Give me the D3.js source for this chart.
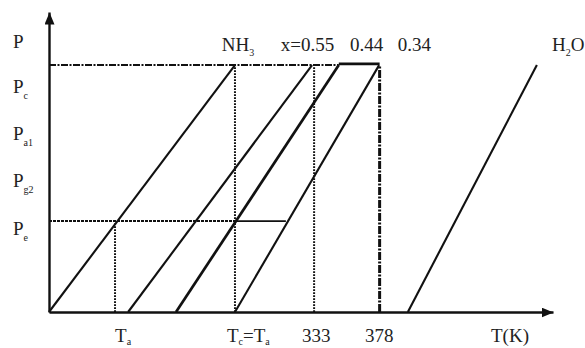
<!DOCTYPE html>
<html>
<head>
<meta charset="utf-8">
<script src="https://cdn.jsdelivr.net/npm/d3@7"></script>
<style>
  body { margin: 0; background: #fff; }
</style>
</head>
<body>
<div id="chart"></div>
<script>
// chart units: T and P both 0..100 along the axes
var pTop = 82.3;      // upper pressure level of the isosteres
var pEvap = 30.3;     // Pe level

// isosteres: start T at P=0, end T at P=pTop
var lineNames = ["NH3", "0.55", "0.44", "0.34", "H2O"];
var lineStart = [0, 15.7, 25.2, 36.9, 71.2];
var lineEnd = [36.9, 52.2, 57.5, 65.5, 96.8];

// vertical guides (T value, top P)
var guideT = [13.1, 36.9, 52.6, 65.6];
var guideTop = [pEvap, pTop, pTop, pTop];

// Pe horizontal: dotted part then solid part
var peDotted = [0, 36.9];
var peSolid = [36.9, 47.0];
// top line: dash-dot part then solid part
var topDashed = [0, 57.5];
var topSolid = [57.5, 65.6];

var yLabels = [["P", ""], ["P", "c"], ["P", "a1"], ["P", "g2"], ["P", "e"]];
var yLabelLevels = [90.3, 75.3, 59.7, 44, 28];

var topLabels = [["NH", "3", ""], ["x=0.55", "", ""], ["0.44", "", ""], ["0.34", "", ""], ["H", "2", "O"]];
var topLabelT = [34.3, 46.0, 59.7, 69.2, 99.8];

var bottomLabels = [["T", "a", "", ""], ["T", "c", "=T", "a"], ["333", "", "", ""], ["378", "", "", ""], ["T(K)", "", "", ""]];
var bottomLabelT = [13.1, 35.3, 50.2, 62.7, 87.7];

var width = 585, height = 348;
var font = "'Liberation Serif', 'Times New Roman', 'DejaVu Serif', serif";
var x = d3.scaleLinear().domain([0, 100]).range([49, 553]);
var y = d3.scaleLinear().domain([0, 100]).range([312, 12]);

var svg = d3.select("#chart").append("svg")
    .attr("width", width)
    .attr("height", height);

svg.append("defs").append("marker")
    .attr("id", "arrow")
    .attr("markerUnits", "userSpaceOnUse")
    .attr("viewBox", "0 0 12 10")
    .attr("refX", 12).attr("refY", 5)
    .attr("markerWidth", 12).attr("markerHeight", 10)
    .attr("orient", "auto")
    .append("path")
    .attr("d", "M0,0L12,5L0,10Z")
    .style("fill", "#111");

// axes (domain lines only, with arrowheads)
svg.append("g")
    .attr("transform", "translate(0," + y(0) + ")")
    .call(d3.axisBottom(x).tickValues([]).tickSizeOuter(0));
svg.append("g")
    .attr("transform", "translate(" + x(0) + ",0)")
    .call(d3.axisLeft(y).tickValues([]).tickSizeOuter(0));
svg.selectAll(".domain")
    .style("stroke", "#111")
    .style("stroke-width", 2.4)
    .attr("marker-end", "url(#arrow)");

// horizontal lines
function hline(seg, p, dash, w) {
    svg.append("line")
        .attr("x1", x(seg[0])).attr("x2", x(seg[1]))
        .attr("y1", y(p)).attr("y2", y(p))
        .style("stroke", "#111")
        .style("stroke-width", w)
        .style("stroke-dasharray", dash);
}
hline(topDashed, pTop, "7,1.5,2,1.5", 2);
hline(topSolid, pTop + 0.4, null, 2.6);
hline(peDotted, pEvap, "3,1", 2);
hline(peSolid, pEvap, null, 1.8);

// vertical guides
svg.selectAll("line.guide").data(guideT).enter().append("line")
    .attr("class", "guide")
    .attr("x1", function (d) { return x(d); })
    .attr("x2", function (d) { return x(d); })
    .attr("y1", y(0))
    .attr("y2", function (d, i) { return y(guideTop[i]); })
    .style("stroke", "#111")
    .style("stroke-width", function (d, i) { return i == 3 ? 3 : 2; })
    .style("stroke-dasharray", function (d, i) { return i == 3 ? "8,1.5,2,1.5" : "1.8,1.2"; });

// isosteres
svg.selectAll("line.iso").data(lineNames).enter().append("line")
    .attr("class", "iso")
    .attr("x1", function (d, i) { return x(lineStart[i]); })
    .attr("x2", function (d, i) { return x(lineEnd[i]); })
    .attr("y1", y(0))
    .attr("y2", y(pTop))
    .style("stroke", "#111")
    .style("stroke-width", function (d) { return d == "0.44" ? 2.7 : 2.1; });

// labels
var fs = 19, sfs = 10;

function label(sel) {
    sel.attr("font-family", font)
        .attr("font-size", fs)
        .attr("fill", "#222");
}

svg.selectAll("text.ylab").data(yLabels).enter().append("text")
    .attr("class", "ylab")
    .call(label)
    .attr("x", 13)
    .attr("y", function (d, i) { return y(yLabelLevels[i]); })
    .attr("dy", "0.35em")
    .each(function (d) {
        var t = d3.select(this);
        t.append("tspan").text(d[0]);
        if (d[1]) t.append("tspan").attr("dy", 6).attr("font-size", sfs).text(d[1]);
    });

svg.selectAll("text.tlab").data(topLabels).enter().append("text")
    .attr("class", "tlab")
    .call(label)
    .attr("x", function (d, i) { return x(topLabelT[i]); })
    .attr("y", y(87))
    .each(function (d) {
        var t = d3.select(this);
        t.append("tspan").text(d[0]);
        if (d[1]) t.append("tspan").attr("dy", 5).attr("font-size", sfs).text(d[1]);
        if (d[2]) t.append("tspan").attr("dy", -5).text(d[2]);
    });

svg.selectAll("text.blab").data(bottomLabels).enter().append("text")
    .attr("class", "blab")
    .call(label)
    .attr("x", function (d, i) { return x(bottomLabelT[i]); })
    .attr("y", y(-10))
    .each(function (d) {
        var t = d3.select(this);
        t.append("tspan").text(d[0]);
        if (d[1]) t.append("tspan").attr("dy", 3).attr("font-size", sfs).text(d[1]);
        if (d[2]) t.append("tspan").attr("dy", -3).text(d[2]);
        if (d[3]) t.append("tspan").attr("dy", 3).attr("font-size", sfs).text(d[3]);
    });
</script>
</body>
</html>
